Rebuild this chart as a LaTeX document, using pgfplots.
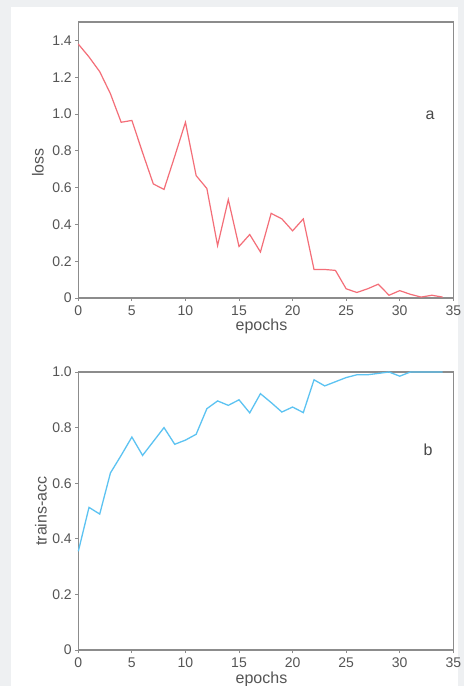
\documentclass[border=0pt]{standalone}
\usepackage{fontspec}
\setmainfont{Liberation Sans}
\usepackage{pgfplots}
\pgfplotsset{compat=1.18}
\definecolor{bg}{HTML}{EEF0F2}
\definecolor{axgray}{HTML}{8C8C8C}
\definecolor{txt}{HTML}{555555}
\definecolor{lossred}{HTML}{F46E78}
\definecolor{accblue}{HTML}{5CC3F2}

\pgfplotsset{
 myax/.style={
  scale only axis, width=375pt, xmin=0, xmax=35, xtick={0,5,...,35},
  axis line style={axgray, line width=1.4pt},
  tick style={axgray, line width=0.9pt},
  tick align=outside, major tick length=3pt,
  xtick pos=bottom, ytick pos=left,
  ticklabel style={font=\fontsize{14}{17}\selectfont, text=txt},
  xticklabel style={yshift=-1.5pt},
  /pgf/number format/assume math mode=true,
  clip=false,
  xlabel={epochs},
  every axis x label/.style={at={(axis description cs:0.4885,-0.104)},anchor=center,
     font=\fontsize{16}{18}\selectfont, text=txt},
 }
}

\pgfplotstableread{
x y
0 1.38
1 1.31
2 1.23
3 1.11
4 0.955
5 0.965
6 0.79
7 0.62
8 0.59
9 0.77
10 0.955
11 0.665
12 0.595
13 0.285
14 0.535
15 0.28
16 0.345
17 0.25
18 0.46
19 0.43
20 0.365
21 0.43
22 0.155
23 0.155
24 0.15
25 0.05
26 0.03
27 0.05
28 0.075
29 0.015
30 0.04
31 0.02
32 0.005
33 0.015
34 0.005
}\losstab

\pgfplotstableread{
x y
0 0.355
1 0.513
2 0.489
3 0.637
4 0.70
5 0.766
6 0.70
7 0.75
8 0.80
9 0.74
10 0.755
11 0.776
12 0.868
13 0.896
14 0.88
15 0.90
16 0.853
17 0.922
18 0.89
19 0.856
20 0.874
21 0.854
22 0.972
23 0.95
24 0.965
25 0.98
26 0.99
27 0.99
28 0.995
29 1.0
30 0.985
31 1.0
32 1.0
33 1.0
34 1.0
}\acctab

\begin{document}
\begin{tikzpicture}[x=1pt,y=1pt]
\useasboundingbox (0,0) rectangle (464,686);
\fill[bg] (0,0) rectangle (464,686);
\fill[white] (11,0) rectangle (458,679);

\begin{axis}[myax, at={(78.3pt,388pt)}, anchor=south west, height=276pt,
  ymin=0, ymax=1.5, ytick={0,0.2,0.4,0.6,0.8,1.0,1.2,1.4},
  yticklabels={0,0.2,0.4,0.6,0.8,1.0,1.2,1.4},
  ylabel={loss},
  every axis y label/.style={at={(axis description cs:-0.108,0.49)},rotate=90,anchor=center,
     font=\fontsize{16}{18}\selectfont, text=txt}]
\addplot[lossred, line width=1.2pt] table[x=x,y=y] {\losstab};
\node[font=\fontsize{16}{18}\selectfont, text=txt!85!black] at (axis description cs:0.938,0.663) {a};
\end{axis}

\begin{axis}[myax, at={(78.3pt,36pt)}, anchor=south west, height=278pt,
  ymin=0, ymax=1.0, ytick={0,0.2,0.4,0.6,0.8,1.0},
  yticklabels={0,0.2,0.4,0.6,0.8,1.0},
  ylabel={trains-acc},
  every axis y label/.style={at={(axis description cs:-0.1,0.5)},rotate=90,anchor=center,
     font=\fontsize{16}{18}\selectfont, text=txt}]
\addplot[accblue, line width=1.3pt] table[x=x,y=y] {\acctab};
\node[font=\fontsize{16}{18}\selectfont, text=txt!85!black] at (axis description cs:0.9325,0.719) {b};
\end{axis}
\end{tikzpicture}
\end{document}
